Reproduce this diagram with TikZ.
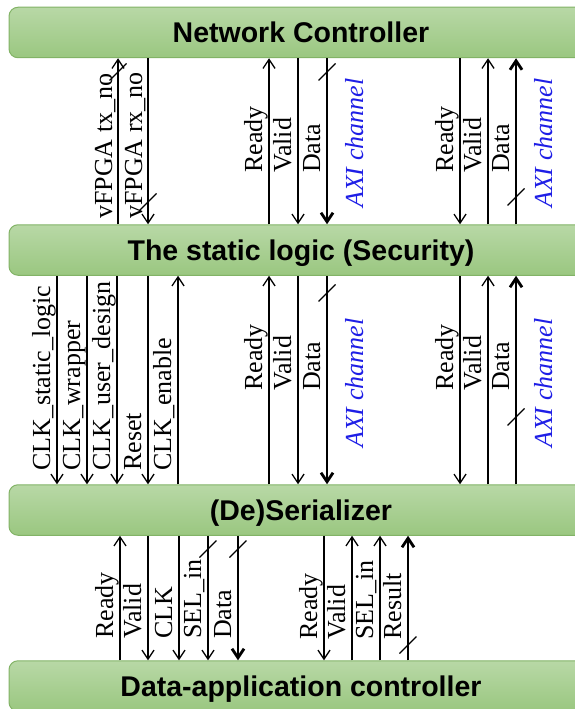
\documentclass[tikz,border=0pt]{standalone}
\usepackage{fontspec}
\setmainfont{Liberation Serif}
\newfontfamily\barfont{Liberation Sans}
\usetikzlibrary{arrows.meta,calc}

\definecolor{bartop}{RGB}{184,216,166}
\definecolor{barbot}{RGB}{154,199,128}
\definecolor{barline}{RGB}{130,179,102}
\definecolor{axiblue}{RGB}{30,30,230}

\begin{document}
\begin{tikzpicture}[x=1pt,y=-1pt,
  bar/.style={draw=barline, line width=1pt, rounded corners=9pt,
    top color=bartop, bottom color=barbot,
    minimum width=584pt, minimum height=50.5pt, inner sep=0pt,
    text height=20.4pt, text depth=0pt,
    font=\barfont\bfseries\fontsize{28.5}{30}\selectfont},
  sig/.style={line width=1.3pt, -{Straight Barb[length=9pt,width=12pt]}},
  bus/.style={line width=2.8pt, -{Straight Barb[length=9pt,width=12pt]}},
  slashmark/.style={line width=1.3pt},
  lab/.style={rotate=90, anchor=base west, inner sep=0pt,
    font=\fontsize{26}{28}\selectfont},
  axi/.style={lab, text=axiblue, font=\itshape\fontsize{26}{28}\selectfont}
]
\useasboundingbox (0,0) rectangle (575,709);
\clip (0,0) rectangle (575,709);

% the four layers
\node[bar] (nc) at (301,32.5) {Network Controller};
\node[bar] (sl) at (301,250) {The static logic (Security)};
\node[bar] (ds) at (301,510) {(De)Serializer};
\node[bar] (da) at (301,686) {Data-application controller};

% signal columns
\coordinate (k1) at (118,0);  \coordinate (k2) at (148,0);
\coordinate (k3) at (269,0);  \coordinate (k4) at (298,0);
\coordinate (k5) at (327,0);  \coordinate (k6) at (460,0);
\coordinate (k7) at (488,0);  \coordinate (k8) at (516,0);

\coordinate (m1) at (57,0);   \coordinate (m2) at (87,0);
\coordinate (m3) at (117,0);  \coordinate (m4) at (148,0);
\coordinate (m5) at (178,0);  \coordinate (m6) at (269,0);
\coordinate (m7) at (298,0);  \coordinate (m8) at (327,0);
\coordinate (m9) at (460,0);  \coordinate (m10) at (488,0);
\coordinate (m11) at (516,0);

\coordinate (n1) at (120,0);  \coordinate (n2) at (148,0);
\coordinate (n3) at (179,0);  \coordinate (n4) at (208,0);
\coordinate (n5) at (238,0);  \coordinate (n6) at (324,0);
\coordinate (n7) at (352,0);  \coordinate (n8) at (380,0);
\coordinate (n9) at (408,0);

% Network Controller <-> static logic
\draw[sig] (sl.north -| k1) -- (nc.south -| k1);
\draw[sig] (nc.south -| k2) -- (sl.north -| k2);
\draw[sig] (sl.north -| k3) -- (nc.south -| k3);
\draw[sig] (nc.south -| k4) -- (sl.north -| k4);
\draw[bus] (nc.south -| k5) -- (sl.north -| k5);
\draw[sig] (nc.south -| k6) -- (sl.north -| k6);
\draw[sig] (sl.north -| k7) -- (nc.south -| k7);
\draw[bus] (sl.north -| k8) -- (nc.south -| k8);

\node[lab] (tx) at (112,219) {vFPGA tx\_no};
\node[lab] (rx) at (142,219) {vFPGA rx\_no};
\node[lab] (r1) at (262,173) {Ready};
\node[lab] (v1) at (291,173) {Valid};
\node[lab] (d1) at (320,173) {Data};
\node[axi] (a1) at (363,208) {AXI channel};
\node[lab] (r2) at (453,173) {Ready};
\node[lab] (v2) at (481,173) {Valid};
\node[lab] (d2) at (509,173) {Data};
\node[axi] (a2) at (552,208) {AXI channel};

% static logic <-> (De)Serializer
\draw[sig] (sl.south -| m1) -- (ds.north -| m1);
\draw[sig] (sl.south -| m2) -- (ds.north -| m2);
\draw[sig] (sl.south -| m3) -- (ds.north -| m3);
\draw[sig] (sl.south -| m4) -- (ds.north -| m4);
\draw[sig] (ds.north -| m5) -- (sl.south -| m5);
\draw[sig] (ds.north -| m6) -- (sl.south -| m6);
\draw[sig] (sl.south -| m7) -- (ds.north -| m7);
\draw[bus] (sl.south -| m8) -- (ds.north -| m8);
\draw[sig] (sl.south -| m9) -- (ds.north -| m9);
\draw[sig] (ds.north -| m10) -- (sl.south -| m10);
\draw[bus] (ds.north -| m11) -- (sl.south -| m11);

\node[lab] (c1) at (50,471) {CLK\_static\_logic};
\node[lab] (c2) at (80,471) {CLK\_wrapper};
\node[lab] (c3) at (110,471) {CLK\_user\_design};
\node[lab] (c4) at (141,471) {Reset};
\node[lab] (c5) at (171,471) {CLK\_enable};
\node[lab] (r3) at (262,391) {Ready};
\node[lab] (v3) at (291,391) {Valid};
\node[lab] (d3) at (320,391) {Data};
\node[axi] (a3) at (363,448) {AXI channel};
\node[lab] (r4) at (453,391) {Ready};
\node[lab] (v4) at (481,391) {Valid};
\node[lab] (d4) at (509,391) {Data};
\node[axi] (a4) at (552,448) {AXI channel};

% (De)Serializer <-> Data-application controller
\draw[sig] (da.north -| n1) -- (ds.south -| n1);
\draw[sig] (ds.south -| n2) -- (da.north -| n2);
\draw[sig] (ds.south -| n3) -- (da.north -| n3);
\draw[sig] (ds.south -| n4) -- (da.north -| n4);
\draw[bus] (ds.south -| n5) -- (da.north -| n5);
\draw[sig] (ds.south -| n6) -- (da.north -| n6);
\draw[sig] (da.north -| n7) -- (ds.south -| n7);
\draw[sig] (da.north -| n8) -- (ds.south -| n8);
\draw[bus] (da.north -| n9) -- (ds.south -| n9);

\node[lab] (r5) at (113,639) {Ready};
\node[lab] (v5) at (141,639) {Valid};
\node[lab] (k) at (172,639) {CLK};
\node[lab] (s1) at (201,639) {SEL\_in};
\node[lab] (d5) at (231,639) {Data};
\node[lab] (r6) at (317,640) {Ready};
\node[lab] (v6) at (345,640) {Valid};
\node[lab] (s2) at (373,640) {SEL\_in};
\node[lab] (rs) at (401,640) {Result};

% bus-width slashes
\foreach \cx/\cy in {118/72, 148/202, 327/72, 516/197, 327/293, 516/417,
                     208/549, 238/549, 408/645}
  \draw[slashmark] (\cx-8.5,\cy+8.5) -- (\cx+8.5,\cy-8.5);
\end{tikzpicture}
\end{document}
